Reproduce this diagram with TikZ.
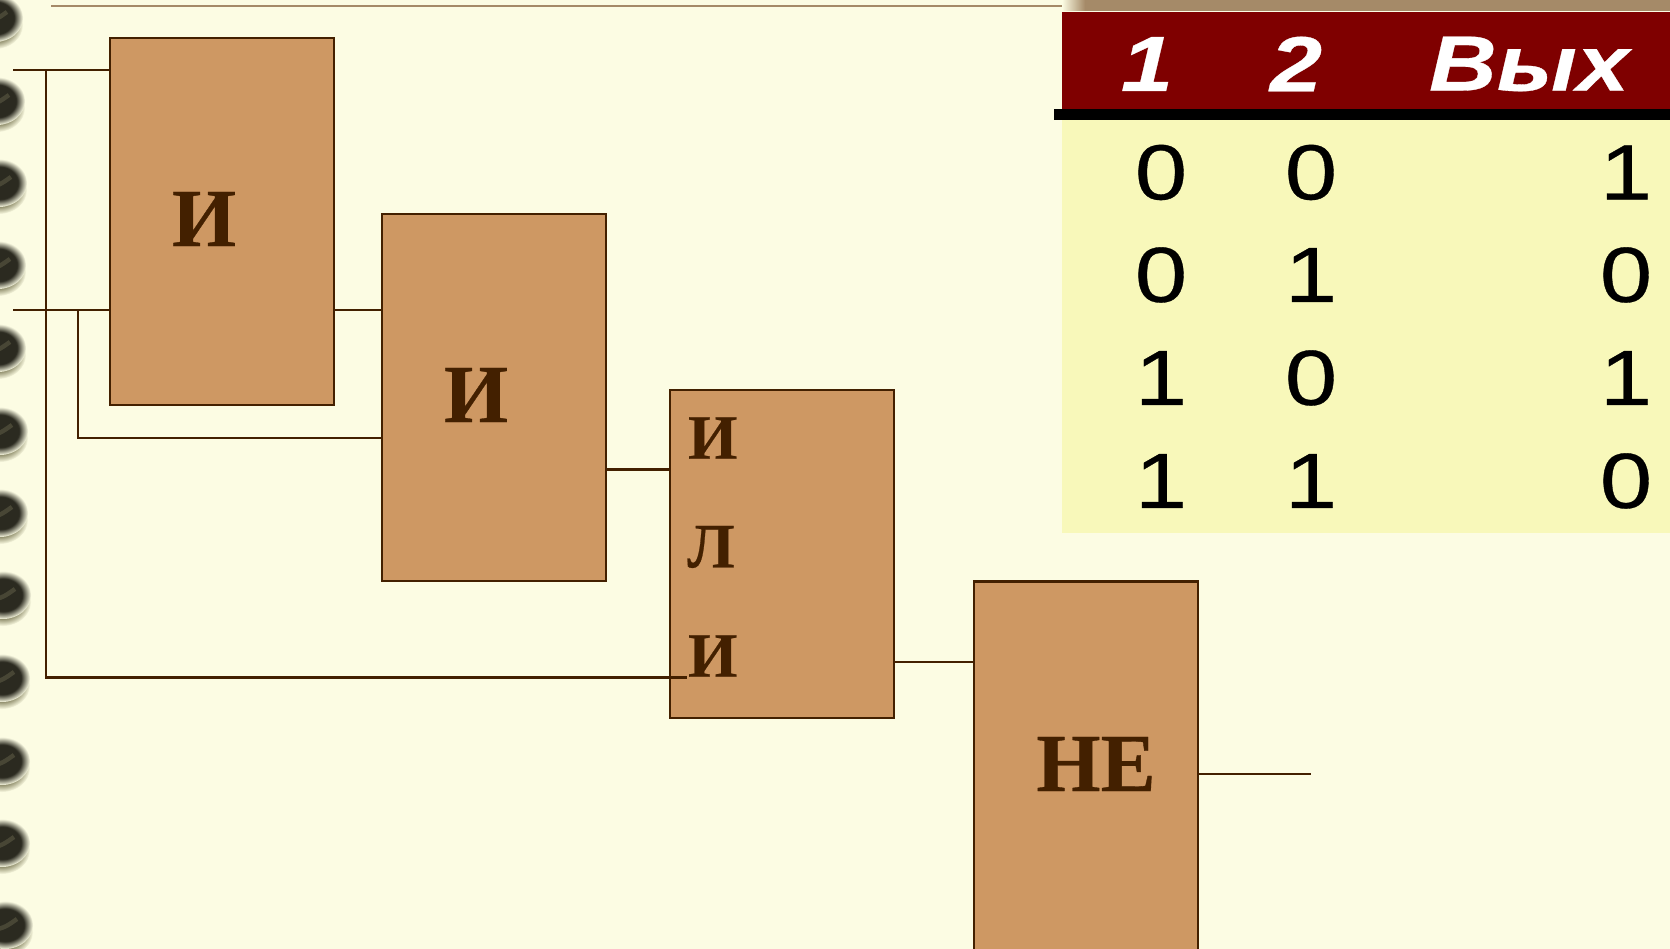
\documentclass[tikz,border=0pt]{standalone}
\usepackage{fontspec}
\setmainfont{Liberation Sans}
\newfontfamily\gateFont{Liberation Serif}[FakeBold=0.4]
\newfontfamily\tableFont{Liberation Sans}[FakeStretch=1.2, FakeBold=0.4]
\usetikzlibrary{positioning}

\definecolor{paper}{HTML}{FCFCE3}
\definecolor{gateFill}{HTML}{CE9863}
\definecolor{wire}{HTML}{432000}
\definecolor{bandBrown}{HTML}{A58A68}
\definecolor{headRed}{HTML}{7F0000}
\definecolor{bodyYellow}{HTML}{F8F8BA}
\definecolor{holeDark}{HTML}{2B2A20}
\definecolor{holeOlive}{HTML}{8C8A68}
\pgfdeclareradialshading{holeShade}{\pgfpoint{0bp}{0bp}}{color(0bp)=(holeDark); color(17bp)=(holeDark); color(25bp)=(paper); color(50bp)=(paper)}
\pgfdeclareradialshading{holeLow}{\pgfpoint{0bp}{0bp}}{color(0bp)=(holeOlive); color(17bp)=(holeOlive); color(25bp)=(paper); color(50bp)=(paper)}

\tikzset{
	gate/.style={draw=wire, fill=gateFill, line width=1.6pt, anchor=north west, outer sep=0pt, inner sep=0pt, minimum width=4.48cm, minimum height=7.34cm},
	gateText/.style={text=wire, font=\gateFont\bfseries\fontsize{47}{47}\selectfont, inner sep=0pt},
	orText/.style={text=wire, font=\gateFont\bfseries\fontsize{36}{36}\selectfont, inner sep=0pt},
	wireLine/.style={draw=wire, line width=1.6pt},
	tablePart/.style={anchor=north west, outer sep=0pt, inner sep=0pt, minimum width=12.16cm},
	headText/.style={text=white, font=\tableFont\bfseries\itshape\fontsize{44.5}{44.5}\selectfont, inner sep=0pt},
	cell/.style={text=black, font=\tableFont\fontsize{44.5}{44.5}\selectfont, inner sep=0pt}
}

\begin{document}
\begin{tikzpicture}[x=0.02cm, y=-0.02cm]
	\clip (0,0) rectangle (1670,949);
	\fill[paper] (0,0) rectangle (1670,949);

	\draw[bandBrown, line width=1.3pt] (51,6) -- (1075,6);
	\shade[left color=paper, right color=bandBrown] (1062,0) rectangle (1085,11);
	\fill[bandBrown] (1085,0) rectangle (1670,11);

	\foreach \hy/\hx in {20/-5, 103/-3, 185/-1, 267/-2, 350/-2, 433/0, 515/0, 597/3, 680/2, 763/2, 845/2, 927/5} {
		\shade[shading=holeLow] (\hx,\hy+5) ellipse (28 and 24);
		\shade[shading=holeShade] (\hx,\hy-2) ellipse (28 and 24);
		\draw[holeOlive, line width=2.5pt, opacity=.3] (\hx-12,\hy+2) .. controls (\hx-2,\hy+3) and (\hx+6,\hy-4) .. (\hx+12,\hy-8);
	}

	\node[gate] (andOne) at (110,38) {};
	\node[gate] (andTwo) at (382,214) {};
	\node[gate, minimum height=6.56cm] (orGate) at (670,390) {};
	\node[gate, minimum height=8cm] (notGate) at (974,581.5) {};

	\node[gateText] (andOneText) at (204,219) {И};
	\node[gateText] (andTwoText) at (476,395) {И};
	\node[orText] (orTextA) at (712.7,438) {И};
	\node[orText] (orTextB) at (711,547) {Л};
	\node[orText] (orTextC) at (712.7,656) {И};
	\node[gateText] (notGateText) at (1096,764) {НЕ};

	\coordinate (inTop) at (13,70);
	\coordinate (inBot) at (13,310);
	\coordinate (busA) at (46,70);
	\coordinate (busB) at (78,310);
	\coordinate (lowIn) at (382,438);
	\coordinate (orIn) at (687,677.5);
	\coordinate (orA) at (670,469.5);
	\coordinate (notIn) at (974,662);
	\coordinate (outEnd) at (1311,774);

	\draw[wireLine] (inTop) -- (inTop -| andOne.west);
	\draw[wireLine] (inBot) -- (inBot -| andOne.west);
	\draw[wireLine] (busA) |- (orIn);
	\draw[wireLine] (busB) |- (lowIn);
	\draw[wireLine] (inBot -| andOne.east) -- (inBot -| andTwo.west);
	\draw[wireLine] (orA -| andTwo.east) -- (orA);
	\draw[wireLine] (notIn -| orGate.east) -- (notIn);
	\draw[wireLine] (outEnd -| notGate.east) -- (outEnd);

	\node[tablePart, fill=headRed, minimum height=1.94cm] (tableHead) at (1062,12) {};
	\node[tablePart, fill=bodyYellow, minimum height=8.26cm] (tableBody) at (1062,120) {};
	\node[tablePart, fill=black, minimum width=12.32cm, minimum height=0.22cm] (tableRule) at (1054,109) {};

	\node[headText] (headA) at (1147,64) {1};
	\node[headText] (headB) at (1296,64) {2};
	\node[headText] (headC) at (1529,64) {Вых};

	\node[cell] (cellAa) at (1161,172.5) {0};
	\node[cell] (cellAb) at (1311,172.5) {0};
	\node[cell] (cellAc) at (1626,172.5) {1};
	\node[cell] (cellBa) at (1161,275) {0};
	\node[cell] (cellBb) at (1311,275) {1};
	\node[cell] (cellBc) at (1626,275) {0};
	\node[cell] (cellCa) at (1161,378) {1};
	\node[cell] (cellCb) at (1311,378) {0};
	\node[cell] (cellCc) at (1626,378) {1};
	\node[cell] (cellDa) at (1161,481) {1};
	\node[cell] (cellDb) at (1311,481) {1};
	\node[cell] (cellDc) at (1626,481) {0};
\end{tikzpicture}
\end{document}
